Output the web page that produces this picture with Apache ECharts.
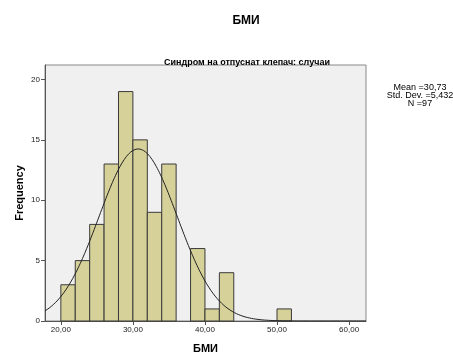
<!DOCTYPE html>
<html><head><meta charset="utf-8">
<script src="https://cdn.jsdelivr.net/npm/echarts@6/dist/echarts.min.js"></script>
<style>html,body{margin:0;padding:0;background:#fff}#c{width:453px;height:354px}</style>
</head><body><div id="c"></div>
<script>
const binStarts = [20,22,24,26,28,30,32,34,36,38,40,42,50];
const binCounts = [3,5,8,13,19,15,9,13,0,6,1,4,1];
const binWidth = 2;
const xTicks = [20,30,40,50,60];
const yTicks = [0,5,10,15,20];
const stats = {mean:30.73, sd:5.432, n:97};
const titleText = 'БМИ';
const subTitleText = 'Синдром на отпуснат клепач: случаи';
const statsLines = ['Mean =30,73', 'Std. Dev. =5,432', 'N =97'];

const xMin = 17.8, xMax = 62.35;
const curve = [];
for (let i = 0; i <= 300; i++) {
  const x = xMin + (xMax - xMin) * i / 300;
  const z = (x - stats.mean) / stats.sd;
  curve.push([x, stats.n * binWidth / (stats.sd * Math.sqrt(2 * Math.PI)) * Math.exp(-0.5 * z * z)]);
}
const bars = binStarts.map((s, i) => [s, s + binWidth, binCounts[i]]).filter(d => d[2] > 0);

const chart = echarts.init(document.getElementById('c'), null, {renderer: 'canvas'});
chart.setOption({
  animation: false,
  textStyle: {fontFamily: 'Liberation Sans, Arial'},
  title: [
    {text: titleText, left: 241, top: 10, textAlign: 'center', textStyle: {fontSize: 12, fontWeight: 'bold', color: '#000'}},
    {text: subTitleText, left: 242, top: 53, textAlign: 'center', textStyle: {fontSize: 9, fontWeight: 'bold', color: '#000'}}
  ],
  graphic: statsLines.map((t, i) => ({type: 'text', x: 420, y: 83 + i * 8,
    style: {text: t, align: 'center', verticalAlign: 'top', fill: '#000', font: '9px "Liberation Sans", Arial'}})),
  grid: {left: 45, top: 65, right: 87, bottom: 33, outerBoundsMode: 'none', containLabel: false,
    show: true, backgroundColor: '#F0F0F0', borderColor: '#888', borderWidth: 1},
  xAxis: {
    type: 'value', min: xMin, max: xMax,
    name: 'БМИ', nameLocation: 'middle', nameGap: 22, nameMoveOverlap: false,
    nameTextStyle: {fontSize: 11, fontWeight: 'bold', color: '#000'},
    splitLine: {show: false},
    axisLine: {show: true, lineStyle: {color: '#555'}},
    axisTick: {show: true, length: 4, lineStyle: {color: '#555'}, customValues: xTicks},
    axisLabel: {fontSize: 8, color: '#222', margin: 5, customValues: xTicks, formatter: v => v.toFixed(2).replace('.', ',')}
  },
  yAxis: {
    type: 'value', min: 0, max: 21.2,
    name: 'Frequency', nameLocation: 'middle', nameGap: 25, nameRotate: 90, nameMoveOverlap: false,
    nameTextStyle: {fontSize: 11, fontWeight: 'bold', color: '#000', verticalAlign: 'middle'},
    splitLine: {show: false},
    axisLine: {show: true, lineStyle: {color: '#555'}},
    axisTick: {show: true, length: 4, lineStyle: {color: '#555'}, customValues: yTicks},
    axisLabel: {fontSize: 8, color: '#222', margin: 5, customValues: yTicks}
  },
  series: [
    {
      type: 'custom', data: bars,
      renderItem: (params, api) => {
        const p0 = api.coord([api.value(0), api.value(2)]);
        const p1 = api.coord([api.value(1), 0]);
        return {type: 'rect', shape: {x: p0[0], y: p0[1], width: p1[0] - p0[0], height: p1[1] - p0[1]},
          style: {fill: '#D6D199', stroke: '#3a3a3a', lineWidth: 1}};
      },
      encode: {x: [0, 1], y: 2}
    },
    {type: 'line', data: curve, showSymbol: false, smooth: false, lineStyle: {color: '#222', width: 1}, z: 5}
  ]
});
</script></body></html>
